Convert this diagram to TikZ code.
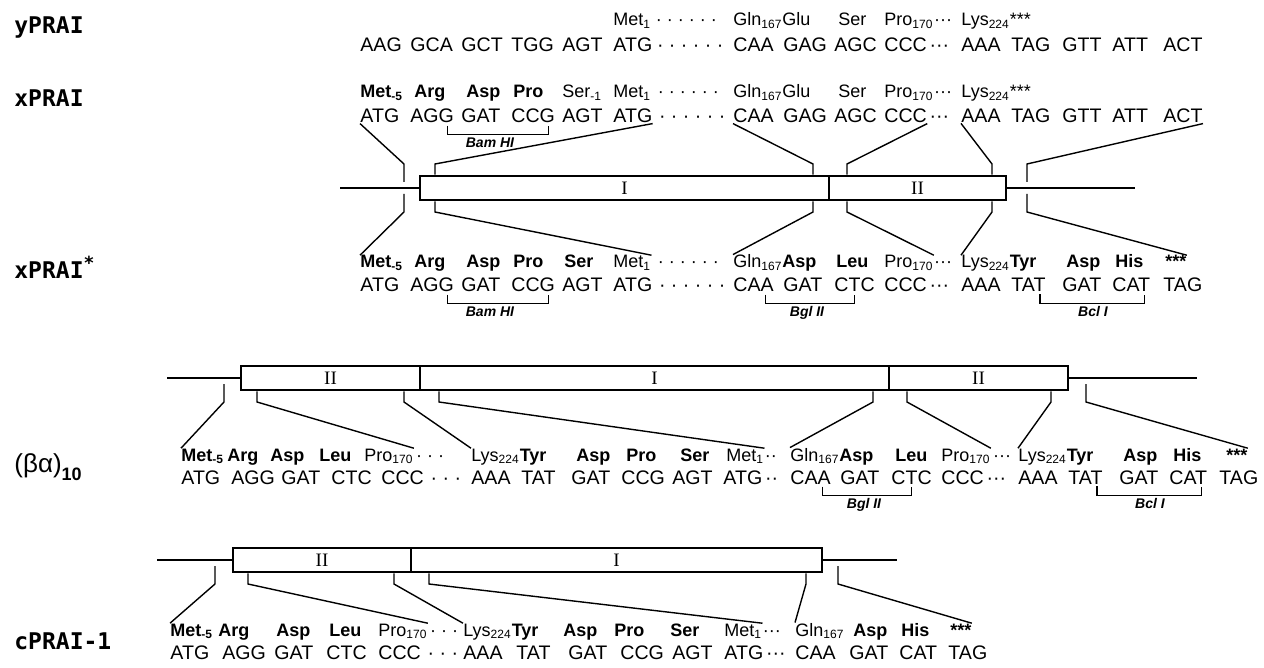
\documentclass[tikz,border=0pt]{standalone}
\usepackage{fontspec}
\setmainfont{Liberation Sans}
\newfontfamily\romannum{Liberation Serif}
\newfontfamily\plasmidfont{DejaVu Sans Mono}

\begin{document}
\begin{tikzpicture}[x=0.5pt, y=-0.5pt,
  codon/.style={anchor=base west, inner sep=0pt, font=\fontsize{9.8}{11}\selectfont},
  amino/.style={anchor=base west, inner sep=0pt, font=\fontsize{9}{10}\selectfont},
  plasmid/.style={anchor=base west, inner sep=0pt, font=\plasmidfont\bfseries\fontsize{11.5}{14}\selectfont},
  exon/.style={draw, line width=1.3pt, fill=white, minimum height=12pt, inner sep=0pt,
               font=\romannum\fontsize{9.5}{10}\selectfont},
  dna/.style={line width=1.2pt},
  link/.style={line width=0.7pt},
  site/.style={line width=0.6pt},
  enzyme/.style={anchor=base, inner sep=0pt, font=\bfseries\itshape\fontsize{7}{8}\selectfont}
]

\fill[white] (0,0) rectangle (1264,668);
\useasboundingbox (0,0) rectangle (1264,668);

% yPRAI
\node[plasmid] (ny) at (14,34) {yPRAI};
\foreach \x/\txt [count=\i] in {613/Met\textsubscript{1}, 733/Gln\textsubscript{167}Glu, 838/Ser,
    884/Pro\textsubscript{170}, 961/Lys\textsubscript{224}***}
  \node[amino] (ya\i) at (\x,26) {\txt};
\node[amino] (yd1) at ([xshift=2pt]ya1.base east) {· · · · · ·};
\node[amino] (yd2) at (ya4.base east) {···};
\foreach \x/\txt [count=\i] in {360/AAG, 410/GCA, 461/GCT, 511/TGG, 562/AGT, 613/ATG, 733/CAA, 783/GAG,
    834/AGC, 884/CCC, 961/AAA, 1011/TAG, 1062/GTT, 1112/ATT, 1163/ACT}
  \node[codon] (yc\i) at (\x,52) {\txt};
\node[codon] (ye1) at ([xshift=2pt]yc6.base east) {· · · · · ·};
\node[codon] (ye2) at ([xshift=1pt]yc10.base east) {···};

% xPRAI
\node[plasmid] (nx) at (14,107) {xPRAI};
\foreach \x/\txt [count=\i] in {360/\textbf{Met\textsubscript{-5}}, 414/\textbf{Arg}, 466/\textbf{Asp},
    513/\textbf{Pro}, 562/Ser\textsubscript{-1}, 613/Met\textsubscript{1}, 733/Gln\textsubscript{167}Glu,
    838/Ser, 884/Pro\textsubscript{170}, 961/Lys\textsubscript{224}***}
  \node[amino] (xa\i) at (\x,98) {\txt};
\node[amino] (xd1) at ([xshift=3pt]xa6.base east) {· · · · · ·};
\node[amino] (xd2) at (xa9.base east) {···};
\foreach \x/\txt [count=\i] in {360/ATG, 410/AGG, 461/GAT, 511/CCG, 562/AGT, 613/ATG, 733/CAA, 783/GAG,
    834/AGC, 884/CCC, 961/AAA, 1011/TAG, 1062/GTT, 1112/ATT, 1163/ACT}
  \node[codon] (xc\i) at (\x,123) {\txt};
\node[codon] (xe1) at ([xshift=3pt]xc6.base east) {· · · · · ·};
\node[codon] (xe2) at ([xshift=1pt]xc10.base east) {···};
\draw[site] ([xshift=-3.3pt,yshift=-1pt]xc2.south east) -- ++(0,9) -| ([xshift=-3.3pt,yshift=-1pt]xc4.south east);
\node[enzyme] (xz1) at (490,148) {Bam HI};

% gene 1
\draw[dna] (340,188) -- (1135,188);
\node[exon, minimum width=204.5pt] (g1a) at (624.5,188) {I};
\node[exon, minimum width=88.5pt] (g1b) at (917.5,188) {II};
\foreach \n/\x in {l/404, a/435, b/813, c/847, d/992, r/1027} {
  \coordinate (u\n) at (\x,164);
  \coordinate (w\n) at (\x,212);
}
\draw[link] (xc1.south west) -- (ul) -- ++(0,18);
\draw[link] (xc6.south east) -- (ua) -- (ua |- g1a.north);
\draw[link] (xc7.south west) -- (ub) -- (ub |- g1a.north);
\draw[link] (xc10.south east) -- (uc) -- (uc |- g1b.north);
\draw[link] (xc11.south west) -- (ud) -- (ud |- g1b.north);
\draw[link] (xc15.south east) -- (ur) -- ++(0,18);

% xPRAI*
\node[plasmid] (ns) at (14,279) {xPRAI\raisebox{5pt}{\fontsize{9}{10}\selectfont *}};
\foreach \x/\txt [count=\i] in {360/\textbf{Met\textsubscript{-5}}, 414/\textbf{Arg}, 466/\textbf{Asp},
    513/\textbf{Pro}, 564/\textbf{Ser}, 613/Met\textsubscript{1}, 733/Gln\textsubscript{167}\textbf{Asp},
    836/\textbf{Leu}, 884/Pro\textsubscript{170}, 961/Lys\textsubscript{224}\textbf{Tyr}, 1066/\textbf{Asp},
    1115/\textbf{His}, 1165/\textbf{***}}
  \node[amino] (sa\i) at (\x,268) {\txt};
\node[amino] (sd1) at ([xshift=3pt]sa6.base east) {· · · · · ·};
\node[amino] (sd2) at (sa9.base east) {···};
\foreach \x/\txt [count=\i] in {360/ATG, 410/AGG, 461/GAT, 511/CCG, 562/AGT, 613/ATG, 733/CAA, 783/GAT,
    834/CTC, 884/CCC, 961/AAA, 1011/TAT, 1062/GAT, 1112/CAT, 1163/TAG}
  \node[codon] (sc\i) at (\x,292) {\txt};
\node[codon] (se1) at ([xshift=3pt]sc6.base east) {· · · · · ·};
\node[codon] (se2) at ([xshift=1pt]sc10.base east) {···};
\draw[site] ([xshift=-3.3pt,yshift=-1pt]sc2.south east) -- ++(0,9) -| ([xshift=-3.3pt,yshift=-1pt]sc4.south east);
\draw[site] ([xshift=-4.5pt,yshift=-1pt]sc7.south east) -- ++(0,9) -| ([yshift=-1pt]sc9.south);
\draw[site] ([xshift=-3pt,yshift=-1pt]sc12.south east) -- ++(0,9) -| ([xshift=-3pt,yshift=-1pt]sc14.south east);
\node[enzyme] (sz1) at (490,317) {Bam HI};
\node[enzyme] (sz2) at (807,317) {Bgl II};
\node[enzyme] (sz3) at (1093,317) {Bcl I};
\draw[link] (sa1.north west) -- (wl) -- ++(0,-18);
\draw[link] (sa6.north east) -- (wa) -- (wa |- g1a.south);
\draw[link] (sa7.north west) -- (wb) -- (wb |- g1a.south);
\draw[link] (sa9.north east) -- (wc) -- (wc |- g1b.south);
\draw[link] (sa10.north west) -- (wd) -- (wd |- g1b.south);
\draw[link] (sa13.north east) -- (wr) -- ++(0,-18);

% gene 2
\draw[dna] (167,378) -- (1197,378);
\node[exon, minimum width=89.5pt] (g2a) at (330.5,378) {II};
\node[exon, minimum width=234.5pt] (g2b) at (654.5,378) {I};
\node[exon, minimum width=89.5pt] (g2c) at (978.5,378) {II};
\foreach \n/\x in {l/224, a/257, b/404, c/439, d/873, e/907, f/1051, r/1086}
  \coordinate (v\n) at (\x,402);

% (beta alpha)10
\node[anchor=base west, inner sep=0pt, font=\fontsize{13}{15}\selectfont] (nb) at (14,472)
  {(βα)\raisebox{-4pt}{\fontsize{9}{10}\selectfont\bfseries 10}};
\foreach \x/\txt [count=\i] in {181/\textbf{Met\textsubscript{-5}}, 227/\textbf{Arg}, 270/\textbf{Asp},
    319/\textbf{Leu}, 364/Pro\textsubscript{170}, 471/Lys\textsubscript{224}\textbf{Tyr}, 576/\textbf{Asp},
    626/\textbf{Pro}, 680/\textbf{Ser}, 726/Met\textsubscript{1}, 790/Gln\textsubscript{167}\textbf{Asp},
    895/\textbf{Leu}, 941/Pro\textsubscript{170}, 1018/Lys\textsubscript{224}\textbf{Tyr}, 1123/\textbf{Asp},
    1173/\textbf{His}, 1226/\textbf{***}}
  \node[amino] (ba\i) at (\x,461) {\txt};
\node[amino] (bd1) at ([xshift=1pt]ba5.base east) {· · ·};
\node[amino] (bd2) at (ba10.base east) {··};
\node[amino] (bd3) at ([xshift=1pt]ba13.base east) {···};
\foreach \x/\txt [count=\i] in {181/ATG, 231/AGG, 281/GAT, 331/CTC, 381/CCC, 471/AAA, 521/TAT, 571/GAT,
    621/CCG, 672/AGT, 723/ATG, 790/CAA, 840/GAT, 891/CTC, 941/CCC, 1018/AAA, 1068/TAT, 1119/GAT,
    1169/CAT, 1219/TAG}
  \node[codon] (bc\i) at (\x,484) {\txt};
\node[codon] (be1) at ([xshift=3pt]bc5.base east) {· · ·};
\node[codon] (be2) at ([xshift=1pt]bc11.base east) {··};
\node[codon] (be3) at ([xshift=1pt]bc15.base east) {···};
\draw[site] ([xshift=-4.5pt,yshift=-1pt]bc12.south east) -- ++(0,9) -| ([yshift=-1pt]bc14.south);
\draw[site] ([xshift=-3pt,yshift=-1pt]bc17.south east) -- ++(0,9) -| ([xshift=-3pt,yshift=-1pt]bc19.south east);
\node[enzyme] (bz1) at (864,508) {Bgl II};
\node[enzyme] (bz2) at (1150,508) {Bcl I};
\draw[link] (ba1.north west) -- (vl) -- ++(0,-18);
\draw[link] (ba5.north east) -- (va) -- (va |- g2a.south);
\draw[link] (ba6.north west) -- (vb) -- (vb |- g2a.south);
\draw[link] (ba10.north east) -- (vc) -- (vc |- g2b.south);
\draw[link] (ba11.north west) -- (vd) -- (vd |- g2b.south);
\draw[link] (ba13.north east) -- (ve) -- (ve |- g2c.south);
\draw[link] (ba14.north west) -- (vf) -- (vf |- g2c.south);
\draw[link] (ba17.north east) -- (vr) -- ++(0,-18);

% gene 3
\draw[dna] (157,560) -- (897,560);
\node[exon, minimum width=89pt] (g3a) at (322,560) {II};
\node[exon, minimum width=205.5pt] (g3b) at (616.5,560) {I};
\foreach \n/\x in {l/215, a/248, b/394, c/429, d/806, r/838}
  \coordinate (z\n) at (\x,584);

% cPRAI-1
\node[plasmid] (nc) at (14,649) {cPRAI-1};
\foreach \x/\txt [count=\i] in {170/\textbf{Met\textsubscript{-5}}, 218/\textbf{Arg}, 276/\textbf{Asp},
    329/\textbf{Leu}, 378/Pro\textsubscript{170}, 463/Lys\textsubscript{224}\textbf{Tyr}, 563/\textbf{Asp},
    614/\textbf{Pro}, 670/\textbf{Ser}, 724/Met\textsubscript{1}, 795/Gln\textsubscript{167},
    853/\textbf{Asp}, 901/\textbf{His}, 950/\textbf{***}}
  \node[amino] (ca\i) at (\x,636) {\txt};
\node[amino] (cd1) at ([xshift=1pt]ca5.base east) {· · ·};
\node[amino] (cd2) at (ca10.base east) {···};
\foreach \x/\txt [count=\i] in {170/ATG, 222/AGG, 274/GAT, 326/CTC, 378/CCC, 463/AAA, 516/TAT, 568/GAT,
    620/CCG, 672/AGT, 724/ATG, 795/CAA, 849/GAT, 899/CAT, 948/TAG}
  \node[codon] (cc\i) at (\x,659) {\txt};
\node[codon] (ce1) at ([xshift=3pt]cc5.base east) {· · ·};
\node[codon] (ce2) at ([xshift=1pt]cc11.base east) {···};
\draw[link] (ca1.north west) -- (zl) -- ++(0,-18);
\draw[link] (ca5.north east) -- (za) -- (za |- g3a.south);
\draw[link] (ca6.north west) -- (zb) -- (zb |- g3a.south);
\draw[link] (ca10.north east) -- (zc) -- (zc |- g3b.south);
\draw[link] (ca11.north west) -- (zd) -- (zd |- g3b.south);
\draw[link] (ca14.north east) -- (zr) -- ++(0,-18);

\end{tikzpicture}
\end{document}
